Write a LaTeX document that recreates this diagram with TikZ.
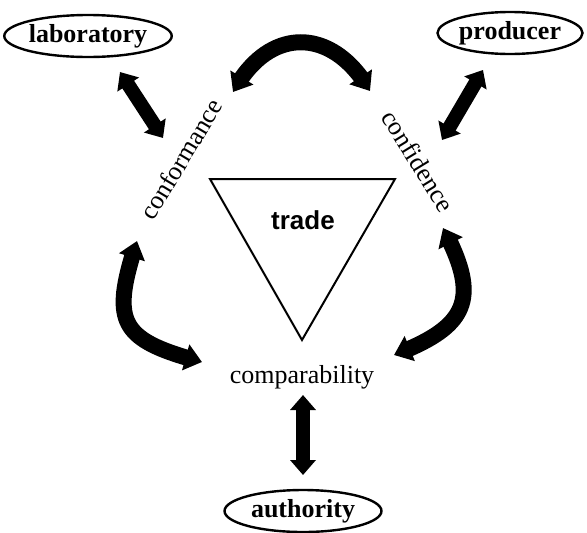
\documentclass[tikz,border=0pt]{standalone}
\usepackage{fontspec}
\setmainfont{Liberation Serif}
\setsansfont{Liberation Sans}
\usetikzlibrary{arrows.meta,bending,shapes.geometric,positioning}

\begin{document}
\begin{tikzpicture}[x=0.5pt,y=0.5pt,
  actor/.style={draw,ellipse,line width=1.2pt,inner sep=0pt,minimum width=#1,minimum height=21pt,font=\fontsize{13}{15}\selectfont\bfseries},
  cword/.style={inner sep=1pt,font=\fontsize{13}{15}\selectfont},
  link/.style={line width=7pt,{Triangle[width=12.5pt,length=7.5pt]}-{Triangle[width=12.5pt,length=7.5pt]}},
  flow/.style={line width=8pt,{Triangle[width=13pt,length=8.5pt]}-{Triangle[width=13pt,length=8.5pt]}}]
  \useasboundingbox (0,0) rectangle (587,532);

  % parties
  \node[actor=78.5pt] (lab) at (88,496) {laboratory};
  \node[actor=72.5pt] (prod) at (510,499) {producer};
  \node[actor=78.5pt] (auth) at (303,21) {authority};

  % the three c's
  \node[cword,rotate=59] (conform) at (181,373) {conformance};
  \node[cword,rotate=-58.5] (confid) at (418,371) {confidence};
  \node[cword] (compar) at (302,155) {comparability};

  % trade triangle
  \draw[line width=1pt] (210,353) -- (395,353) -- (302,192) -- cycle;
  \node[font=\fontsize{13}{15}\selectfont\sffamily\bfseries] (trade) at (303,312) {trade};

  % arrow ends
  \coordinate (lab-a) at (120,460);  \coordinate (lab-b) at (163,394);
  \coordinate (prod-a) at (483,462); \coordinate (prod-b) at (442,392);
  \coordinate (auth-a) at (303,57);  \coordinate (auth-b) at (303,137);
  \coordinate (top-l) at (233,440);  \coordinate (top-r) at (370,441);
  \coordinate (left-t) at (137,291); \coordinate (left-b) at (202,170);
  \coordinate (right-t) at (443,304);\coordinate (right-b) at (394,177);

  \draw[link] (lab-a) -- (lab-b);
  \draw[link] (prod-a) -- (prod-b);
  \draw[link] (auth-a) -- (auth-b);

  \draw[flow] (top-l) to[out=62,in=120,looseness=1.4] (top-r);
  \draw[flow] (left-t) to[out=252,in=165,looseness=1.6] (left-b);
  \draw[flow] (right-t) to[out=-62,in=21,looseness=1.5] (right-b);
\end{tikzpicture}
\end{document}
